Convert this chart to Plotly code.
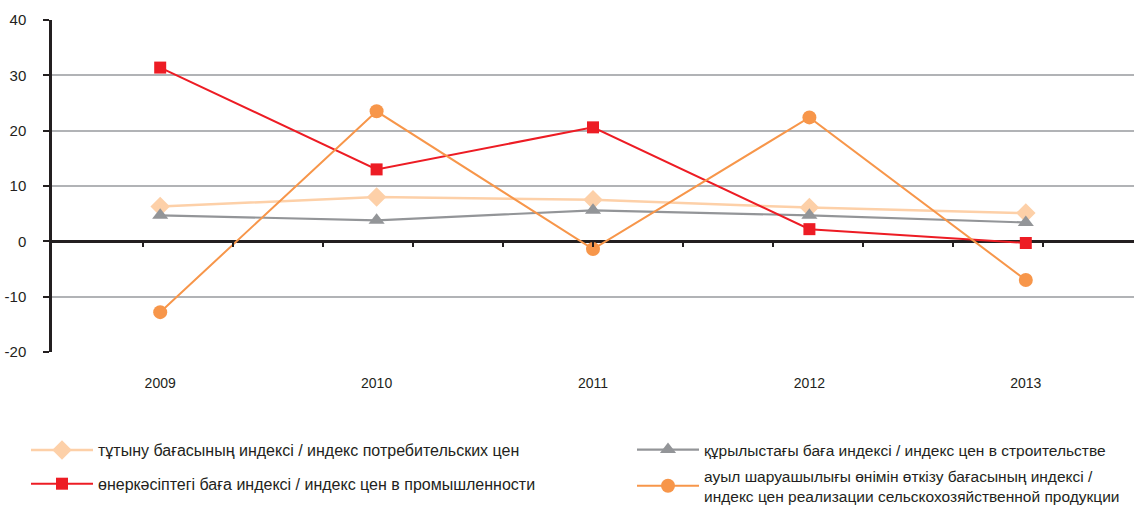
import plotly.graph_objects as go

years = ["2009", "2010", "2011", "2012", "2013"]
cpi = [6.3, 8.0, 7.5, 6.1, 5.1]
construction = [4.7, 3.8, 5.6, 4.7, 3.4]
industry = [31.4, 13.0, 20.6, 2.2, -0.3]
agriculture = [-12.8, 23.5, -1.4, 22.4, -7.0]

y_ticks = [-20, -10, 0, 10, 20, 30, 40]
y_tick_text = ["-20", "-10", "0", "10", "20", "30", "40"]

names = {
    "cpi": "тұтыну бағасының индексі / индекс потребительских цен",
    "construction": "құрылыстағы баға индексі / индекс цен в строительстве",
    "industry": "өнеркәсіптегі баға индексі / индекс цен в промышленности",
    "agriculture": "ауыл шаруашылығы өнімін өткізу бағасының индексі /<br>индекс цен реализации сельскохозяйственной продукции",
}

FONT = "Liberation Sans, Arial, sans-serif"
TXT = "#231f20"
fig = go.Figure()

def add(y, key, color, symbol, size, legend, width=2):
    fig.add_trace(go.Scatter(
        x=years, y=y, name=names[key], mode="lines+markers",
        line=dict(color=color, width=width),
        marker=dict(symbol=symbol, size=size, color=color),
        legend=legend, legendgroup=key,
    ))

add(cpi, "cpi", "#fdd0a8", "diamond", 15, "legend", 2.5)
add(construction, "construction", "#939598", "triangle-up", 14, "legend2", 2.2)
add(industry, "industry", "#ed1c24", "square", 12, "legend")
add(agriculture, "agriculture", "#f7964a", "circle", 14, "legend2")

legend_common = dict(xref="container", yref="container", xanchor="left", yanchor="top",
                     itemwidth=62, valign="middle", bgcolor="rgba(0,0,0,0)")

fig.update_layout(
    width=1134, height=505,
    margin=dict(l=52, r=0, t=20, b=153, autoexpand=False),
    plot_bgcolor="white", paper_bgcolor="white",
    font=dict(family=FONT, size=14, color=TXT),
    showlegend=True,
    legend=dict(x=26/1134, y=1-433/505, tracegroupgap=10,
                font=dict(size=16, color=TXT), **legend_common),
    legend2=dict(x=632/1134, y=1-433/505, tracegroupgap=3,
                 font=dict(size=15.5, color=TXT), **legend_common),
    xaxis=dict(range=[-0.5, 4.5], type="category", showgrid=False, zeroline=False,
               showline=False, ticks="outside", ticklen=18, tickcolor="rgba(0,0,0,0)",
               tickfont=dict(size=14, color=TXT)),
    xaxis2=dict(overlaying="x", anchor="free", position=1/3, range=[52, 1134],
                showgrid=False, zeroline=False, showline=False, showticklabels=False,
                ticks="outside", ticklen=5, tickwidth=2, tickcolor=TXT,
                tickvals=[143, 233, 323, 413, 503, 593, 683, 773, 863, 953, 1043]),
    yaxis=dict(range=[-20, 40], tickvals=y_ticks, ticktext=y_tick_text,
               showgrid=True, gridcolor="#b1b3b6", gridwidth=2,
               zeroline=True, zerolinecolor=TXT, zerolinewidth=2.5,
               showline=True, linecolor=TXT, linewidth=2.5,
               ticks="outside", ticklen=6, tickwidth=2, tickcolor=TXT,
               ticklabelstandoff=14,
               tickfont=dict(size=15, color=TXT)),
)
# invisible trace to activate the minor tick axis
fig.add_trace(go.Scatter(x=[52], y=[None], xaxis="x2", showlegend=False, hoverinfo="skip"))

fig.write_html("out.html", config={"displayModeBar": False},
               post_script="document.body.style.margin='0';")
